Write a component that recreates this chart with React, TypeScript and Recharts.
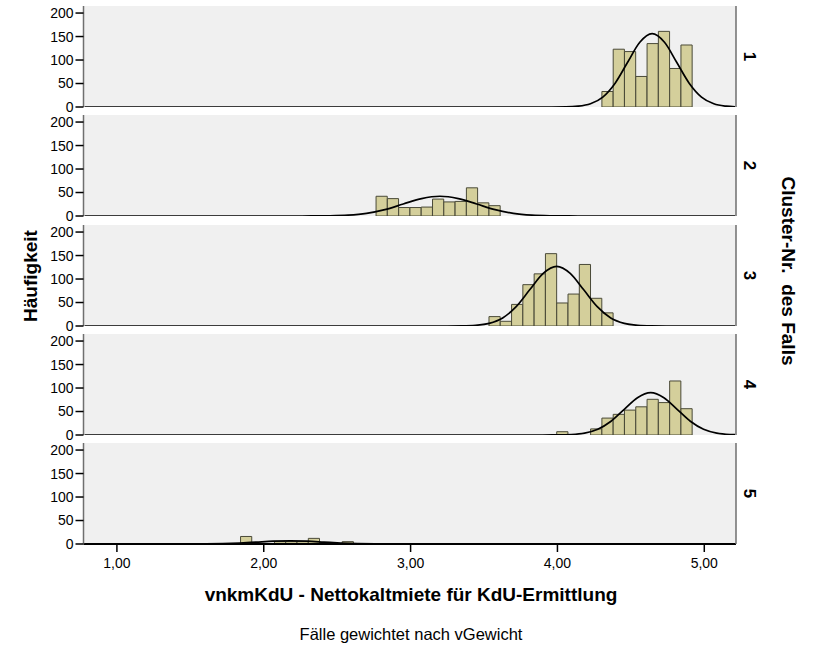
import React from 'react'
import { Bar, CartesianGrid, ComposedChart, Line, XAxis, YAxis } from 'recharts'

// histogram bin grid shared by all clusters
const BIN_START = 1.842
const BIN_WIDTH = 0.0769

const clusterLabels = ['1', '2', '3', '4', '5']

const bins1 = [32, 33, 34, 35, 36, 37, 38, 39]
const counts1 = [33, 123, 118, 65, 135, 161, 82, 132]
const curveX1 = [0.78, 3.9, 4.057, 4.141, 4.225, 4.309, 4.393, 4.477, 4.561, 4.645, 4.729, 4.813, 4.897, 4.981, 5.065, 5.149, 5.21]
const curveY1 = [0, 0, 0.3, 1.7, 6.8, 21.1, 50.7, 94.6, 137.7, 156, 137.7, 94.6, 50.7, 21.1, 6.8, 1.7, 0.4]

const bins2 = [12, 13, 14, 15, 16, 17, 18, 19, 20, 21, 22]
const counts2 = [42, 37, 18, 18, 19, 36, 30, 31, 60, 28, 22]
const curveX2 = [0.78, 2.2, 2.325, 2.45, 2.575, 2.7, 2.825, 2.95, 3.075, 3.2, 3.325, 3.45, 3.575, 3.7, 3.825, 3.95, 4.075, 4.2, 5.21]
const curveY2 = [0, 0, 0.09, 0.47, 1.84, 5.7, 13.6, 25.5, 37.1, 42, 37.1, 25.5, 13.6, 5.7, 1.84, 0.47, 0.09, 0, 0]

const bins3 = [22, 23, 24, 25, 26, 27, 28, 29, 30, 31, 32]
const counts3 = [20, 10, 46, 88, 111, 154, 49, 68, 131, 59, 28]
const curveX3 = [0.78, 3.25, 3.351, 3.443, 3.535, 3.627, 3.719, 3.811, 3.903, 3.995, 4.087, 4.179, 4.271, 4.363, 4.455, 4.547, 4.639, 4.74, 5.21]
const curveY3 = [0, 0, 0.28, 1.41, 5.6, 17.2, 41.2, 77.0, 112.1, 127, 112.1, 77.0, 41.2, 17.2, 5.6, 1.41, 0.28, 0, 0]

const bins4 = [28, 31, 32, 33, 34, 35, 36, 37, 38, 39]
const counts4 = [7, 13, 36, 44, 53, 60, 76, 69, 115, 56]
const curveX4 = [0.78, 3.9, 4.005, 4.095, 4.185, 4.275, 4.365, 4.455, 4.545, 4.635, 4.725, 4.815, 4.905, 4.995, 5.085, 5.175, 5.21]
const curveY4 = [0, 0, 0.2, 1.0, 4.0, 12.2, 29.2, 54.6, 79.4, 90, 79.4, 54.6, 29.2, 12.2, 4.0, 1.0, 0.6]

const bins5 = [0, 3, 4, 5, 6, 7, 9]
const counts5 = [16, 5, 5, 5, 12, 3, 5]
const curveX5 = [0.78, 1.26, 1.375, 1.49, 1.605, 1.72, 1.835, 1.95, 2.065, 2.18, 2.295, 2.41, 2.525, 2.64, 2.755, 2.87, 2.985, 3.1, 5.21]
const curveY5 = [0, 0, 0.015, 0.07, 0.29, 0.91, 2.18, 4.06, 5.91, 6.7, 5.91, 4.06, 2.18, 0.91, 0.29, 0.07, 0.015, 0, 0]

const xTicks = [1, 2, 3, 4, 5]
const yTicks = [0, 50, 100, 150, 200]

const X_DOMAIN: [number, number] = [0.7725, 5.216]
const Y_DOMAIN: [number, number] = [0, 215]
const FONT = '"Liberation Sans", Arial, Helvetica, sans-serif'
const FRAME = '#6f6f6f'
const BAR_FILL = '#d4cf9b'
const BAR_STROKE = '#4a4a38'

const PANEL_TOP = 6
const PANEL_PITCH = 109.3
const PLOT_H = 101

function barRows(bins: number[], counts: number[]) {
  return bins.map((k, i) => ({ x: BIN_START + (k + 0.5) * BIN_WIDTH, count: counts[i] }))
}

function curveRows(xs: number[], ys: number[]) {
  return xs.map((x, i) => ({ x, curve: ys[i] }))
}

const panels = [
  { bars: barRows(bins1, counts1), curve: curveRows(curveX1, curveY1) },
  { bars: barRows(bins2, counts2), curve: curveRows(curveX2, curveY2) },
  { bars: barRows(bins3, counts3), curve: curveRows(curveX3, curveY3) },
  { bars: barRows(bins4, counts4), curve: curveRows(curveX4, curveY4) },
  { bars: barRows(bins5, counts5), curve: curveRows(curveX5, curveY5) },
]

const fmtTick = (v: number) => v.toFixed(2).replace('.', ',')

function Panel({ index }: { index: number }) {
  const last = index === panels.length - 1
  const { bars, curve } = panels[index]
  const top = PANEL_TOP + index * PANEL_PITCH
  // extra room below so the "0" tick label is not clipped
  const bottom = last ? 0 : 12
  const height = PLOT_H + 2 + bottom + (last ? 30 : 0)
  return (
    <div style={{ position: 'absolute', left: 0, top: top - 2 }}>
      <ComposedChart
        width={819}
        height={height}
        data={bars}
        margin={{ top: 2, right: 55, bottom, left: 43.5 }}
      >
        <CartesianGrid xAxisId="b" yAxisId="l" fill="#f0f0f0" horizontal={false} vertical={false} />
        <Bar
          xAxisId="b"
          yAxisId="l"
          dataKey="count"
          barSize={11.2}
          fill={BAR_FILL}
          stroke={BAR_STROKE}
          strokeWidth={1}
          isAnimationActive={false}
        />
        <Line
          xAxisId="t"
          yAxisId="l"
          data={curve}
          dataKey="curve"
          type="monotone"
          stroke="#000"
          strokeWidth={1.7}
          dot={false}
          activeDot={false}
          connectNulls
          isAnimationActive={false}
        />
        <XAxis
          xAxisId="t"
          orientation="top"
          type="number"
          dataKey="x"
          domain={X_DOMAIN}
          allowDataOverflow
          height={0}
          tick={false}
          tickLine={false}
          axisLine={{ stroke: FRAME, strokeWidth: 1.5 }}
        />
        <XAxis
          xAxisId="b"
          type="number"
          dataKey="x"
          domain={X_DOMAIN}
          allowDataOverflow
          ticks={xTicks}
          interval={0}
          height={last ? 30 : 0}
          tick={last ? { fill: '#000', fontSize: 14, fontFamily: FONT } : false}
          tickLine={last ? { stroke: '#000', strokeWidth: 1.5 } : false}
          tickSize={8}
          tickMargin={6}
          tickFormatter={fmtTick}
          axisLine={{ stroke: '#000', strokeWidth: 2 }}
        />
        <YAxis
          yAxisId="l"
          type="number"
          domain={Y_DOMAIN}
          allowDataOverflow
          ticks={yTicks}
          interval={0}
          width={40}
          tickSize={8}
          tick={{ fill: '#000', fontSize: 14, fontFamily: FONT }}
          tickLine={{ stroke: '#000', strokeWidth: 1.5 }}
          axisLine={{ stroke: FRAME, strokeWidth: 1.5 }}
        />
        <YAxis
          yAxisId="r"
          orientation="right"
          type="number"
          domain={Y_DOMAIN}
          width={28}
          tick={false}
          tickLine={false}
          axisLine={{ stroke: FRAME, strokeWidth: 1.5 }}
          label={{
            value: clusterLabels[index],
            position: 'center',
            angle: 90,
            fill: '#000',
            fontSize: 17,
            fontWeight: 'bold',
            fontFamily: FONT,
          }}
        />
      </ComposedChart>
    </div>
  )
}

export default function App() {
  return (
    <div style={{ position: 'absolute', left: 0, top: 0, width: 819, height: 655, background: '#fff', fontFamily: FONT }}>
      {panels.map((_, i) => (
        <Panel key={i} index={i} />
      ))}
      <svg width={819} height={655} style={{ position: 'absolute', left: 0, top: 0, pointerEvents: 'none' }}>
        <text
          x={30}
          y={276}
          transform="rotate(-90 30 276)"
          textAnchor="middle"
          dominantBaseline="central"
          fontSize={19}
          fontWeight="bold"
          fontFamily={FONT}
        >
          Häufigkeit
        </text>
        <text
          x={788}
          y={271}
          transform="rotate(90 788 271)"
          textAnchor="middle"
          dominantBaseline="central"
          fontSize={19}
          fontWeight="bold"
          fontFamily={FONT}
          style={{ whiteSpace: 'pre' }}
        >
          {'Cluster-Nr.  des Falls'}
        </text>
        <text x={411} y={601} textAnchor="middle" fontSize={19} fontWeight="bold" fontFamily={FONT}>
          vnkmKdU - Nettokaltmiete für KdU-Ermittlung
        </text>
        <text x={411} y={640} textAnchor="middle" fontSize={16.5} fontFamily={FONT}>
          Fälle gewichtet nach vGewicht
        </text>
      </svg>
    </div>
  )
}
